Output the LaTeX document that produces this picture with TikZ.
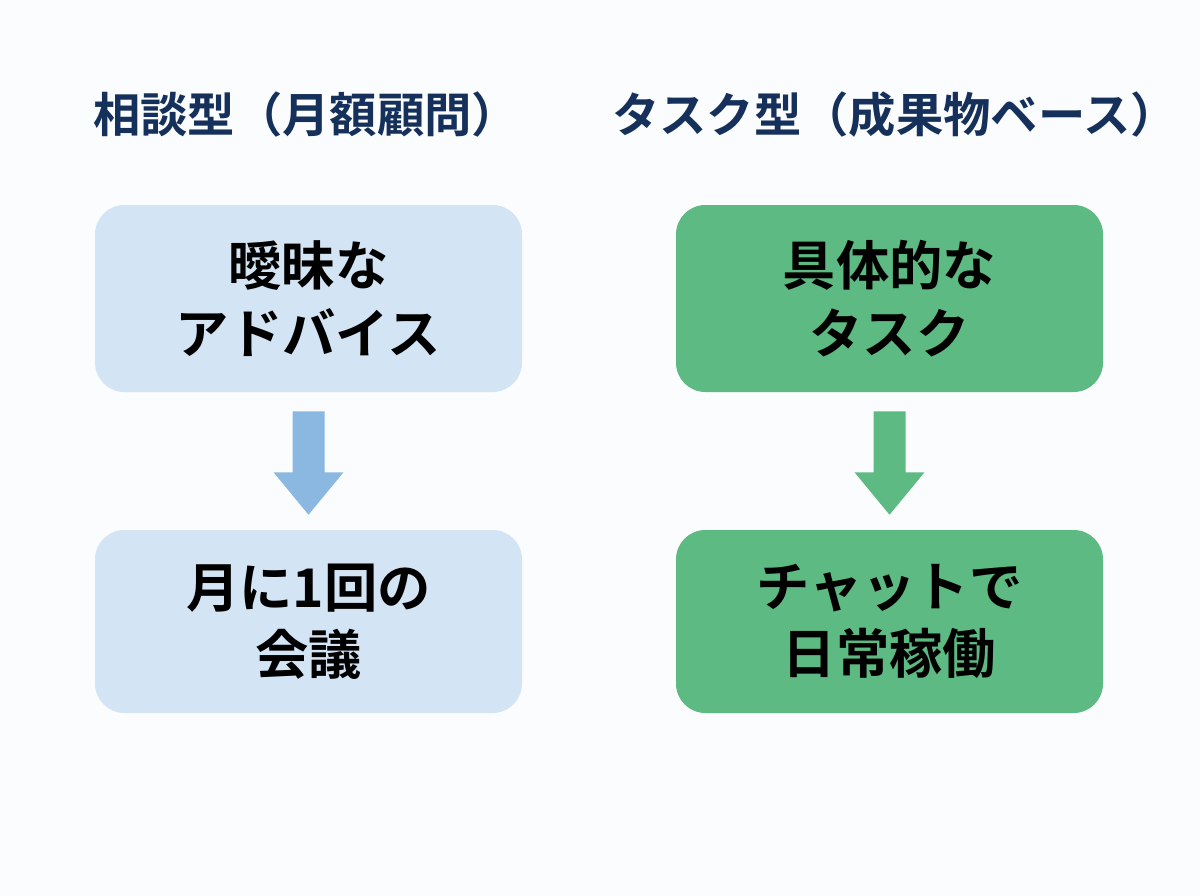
\documentclass[tikz,border=0pt]{standalone}
\usepackage{fontspec}
\newfontfamily\cjk{Noto Sans CJK JP}[BoldFont={Noto Sans CJK JP Bold}]
\usetikzlibrary{calc}
\definecolor{bg}{HTML}{FBFCFD}
\definecolor{navy}{HTML}{15305A}
\definecolor{lblue}{HTML}{D3E4F4}
\definecolor{ablue}{HTML}{8BB8E0}
\definecolor{green}{HTML}{5CBA82}
\begin{document}
\begin{tikzpicture}[x=0.75pt,y=-0.75pt,
  title/.style={anchor=west,inner sep=0pt,text=navy,font=\cjk\bfseries\fontsize{35.5}{42}\selectfont},
  box/.style={rounded corners=22pt,minimum width=320.25pt,align=center,inner sep=0pt,
     font=\cjk\bfseries\fontsize{40}{50.5}\selectfont,text=black},
  bluebox/.style={box,fill=lblue},
  greenbox/.style={box,fill=green},
]
\fill[bg] (0,0) rectangle (1200,896);
\useasboundingbox (0,0) rectangle (1200,896);
\node[title] (t1) at (93,115) {相談型（月額顧問）};
\node[title] (t2) at (612,115) {タスク型（成果物ベース）};
\node[bluebox,minimum height=140.25pt] (a1) at (308.5,298.5) {曖昧な\\アドバイス};
\node[bluebox,minimum height=137.25pt] (a2) at (308.5,621.5) {月に1回の\\会議};
\node[greenbox,minimum height=140.25pt] (b1) at (889.5,298.5) {具体的な\\タスク};
\node[greenbox,minimum height=137.25pt] (b2) at (889.5,621.5) {チャットで\\日常稼働};
\foreach \s/\t/\c in {a1/a2/ablue,b1/b2/green}{
  \fill[\c] ($(\s.south)+(-16,19)$) -- ($(\s.south)+(16,19)$) -- ($(\s.south)+(16,80)$)
    -- ($(\s.south)+(35,80)$) -- ($(\t.north)+(0,-15)$) -- ($(\s.south)+(-35,80)$)
    -- ($(\s.south)+(-16,80)$) -- cycle;
}
\end{tikzpicture}
\end{document}
